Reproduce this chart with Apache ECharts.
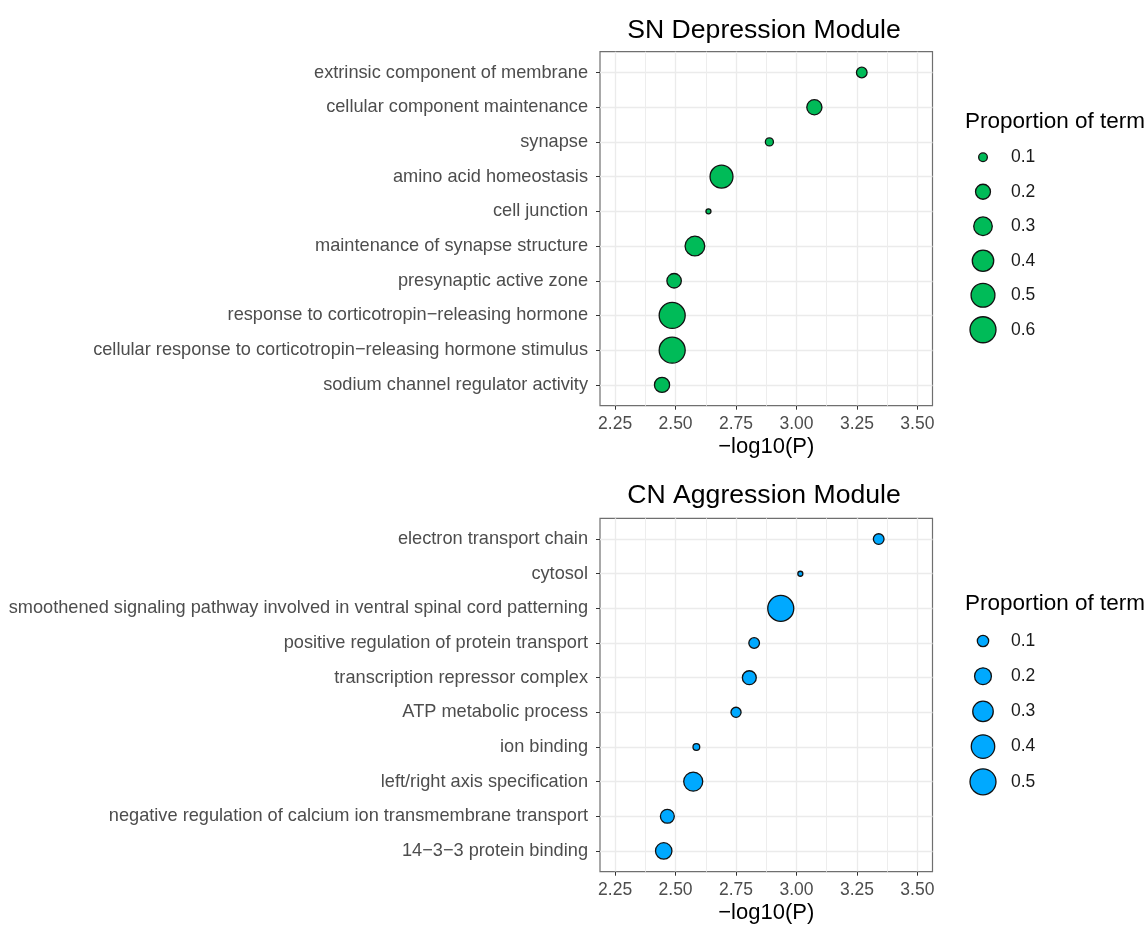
<!DOCTYPE html>
<html>
<head>
<meta charset="utf-8">
<title>Module enrichment</title>
<script src="https://cdn.jsdelivr.net/npm/echarts@6/dist/echarts.min.js"></script>
<style>
  html, body { margin: 0; padding: 0; background: #fff; }
  #chart { width: 1146px; height: 926px; }
</style>
</head>
<body>
<div id="chart"></div>
<script>
const termsTop = [
  "extrinsic component of membrane",
  "cellular component maintenance",
  "synapse",
  "amino acid homeostasis",
  "cell junction",
  "maintenance of synapse structure",
  "presynaptic active zone",
  "response to corticotropin\u2212releasing hormone",
  "cellular response to corticotropin\u2212releasing hormone stimulus",
  "sodium channel regulator activity"
];
const logPTop = [3.27, 3.074, 2.888, 2.69, 2.636, 2.58, 2.494, 2.486, 2.486, 2.444];
const propTop = [0.121, 0.205, 0.095, 0.459, 0.084, 0.337, 0.189, 0.6, 0.6, 0.205];

const termsBottom = [
  "electron transport chain",
  "cytosol",
  "smoothened signaling pathway involved in ventral spinal cord patterning",
  "positive regulation of protein transport",
  "transcription repressor complex",
  "ATP metabolic process",
  "ion binding",
  "left/right axis specification",
  "negative regulation of calcium ion transmembrane transport",
  "14\u22123\u22123 protein binding"
];
const logPBottom = [3.34, 3.016, 2.935, 2.825, 2.805, 2.75, 2.586, 2.573, 2.466, 2.451];
const propBottom = [0.092, 0.06, 0.5, 0.092, 0.139, 0.086, 0.063, 0.257, 0.139, 0.19];

const xTicks = [2.25, 2.5, 2.75, 3.0, 3.25, 3.5];
const xMinor = [2.375, 2.625, 2.875, 3.125, 3.375];
const breaksTop = [0.1, 0.2, 0.3, 0.4, 0.5, 0.6];
const breaksBottom = [0.1, 0.2, 0.3, 0.4, 0.5];

const green = "#00BB58";
const blue = "#00A9FF";
const font = "'Liberation Sans', Arial, sans-serif";

// ggplot-like area scale: diameter grows with sqrt of the rescaled value
function sizeScale(values) {
  const lo = Math.min(...values), hi = Math.max(...values);
  return (v) => 5 + 21 * Math.sqrt(Math.max(0, (v - lo) / (hi - lo)));
}
const sizeTop = sizeScale(propTop);
const sizeBottom = sizeScale(propBottom);

const panels = [
  { terms: termsTop, x: logPTop, p: propTop, size: sizeTop, color: green, top: 51.7, height: 354 },
  { terms: termsBottom, x: logPBottom, p: propBottom, size: sizeBottom, color: blue, top: 518.3, height: 353.4 }
];
const legends = [
  { breaks: breaksTop, size: sizeTop, color: green, top: 140, height: 207 },
  { breaks: breaksBottom, size: sizeBottom, color: blue, top: 623.4, height: 176 }
];

const grid = [], xAxis = [], yAxis = [], series = [];

panels.forEach((pn, k) => {
  grid.push({
    left: 600, width: 332.5, top: pn.top, height: pn.height,
    show: true, borderColor: "#6f6f6f", borderWidth: 1.2, backgroundColor: "transparent"
  });
  const idx = pn.terms.map((_, i) => i);
  xAxis.push({
    gridIndex: k, type: "value", min: 2.1875, max: 3.5625,
    axisLine: { show: false, onZero: false },
    axisTick: { show: true, length: 4, customValues: xTicks, lineStyle: { color: "#333" } },
    axisLabel: {
      customValues: xTicks, margin: 9, color: "#4d4d4d", fontSize: 17.5, fontFamily: font,
      formatter: (v) => v.toFixed(2)
    },
    splitLine: { show: true, lineStyle: { color: "#ebebeb", width: 1.3 } },
    name: "\u2212log10(P)", nameLocation: "middle", nameGap: 30,
    nameTextStyle: { fontSize: 22, color: "#000", fontFamily: font }
  });
  // second, silent axis only for the minor grid lines
  xAxis.push({
    gridIndex: k, type: "value", min: 2.1875, max: 3.5625, position: "top",
    axisLine: { show: false, onZero: false },
    axisTick: { show: false, customValues: xMinor },
    axisLabel: { show: false, customValues: xMinor },
    splitLine: { show: true, lineStyle: { color: "#ededed", width: 1 } }
  });
  yAxis.push({
    gridIndex: k, type: "value", min: -0.6, max: pn.terms.length - 0.4, inverse: true,
    axisLine: { show: false, onZero: false },
    axisTick: { show: true, length: 4, customValues: idx, lineStyle: { color: "#333" } },
    axisLabel: {
      customValues: idx, margin: 12, color: "#4d4d4d", fontSize: 18.2, fontFamily: font,
      formatter: (v) => pn.terms[Math.round(v)]
    },
    splitLine: { show: true, lineStyle: { color: "#ebebeb", width: 1.3 } }
  });
  series.push({
    type: "scatter",
    xAxisIndex: k * 2, yAxisIndex: k,
    data: pn.x.map((x, i) => [x, i, pn.p[i]]),
    symbolSize: (d) => pn.size(d[2]),
    itemStyle: { color: pn.color, borderColor: "#111", borderWidth: 1.3, opacity: 1 },
    z: 5
  });
});

legends.forEach((lg) => {
  const g = grid.length;
  grid.push({ left: 968, width: 30, top: lg.top, height: lg.height });
  xAxis.push({ gridIndex: g, type: "category", data: ["size"], show: false });
  yAxis.push({
    gridIndex: g, type: "category", data: lg.breaks.map(String), inverse: true, position: "right",
    axisLine: { show: false }, axisTick: { show: false }, splitLine: { show: false },
    axisLabel: { margin: 13, color: "#1a1a1a", fontSize: 17.5, fontFamily: font }
  });
  series.push({
    type: "scatter",
    xAxisIndex: xAxis.length - 1, yAxisIndex: yAxis.length - 1,
    data: lg.breaks.map((b) => ["size", String(b), b]),
    symbolSize: (d) => lg.size(d[2]),
    itemStyle: { color: lg.color, borderColor: "#111", borderWidth: 1.3, opacity: 1 },
    silent: true
  });
});

const titleStyle = { fontSize: 26.6, fontWeight: "normal", color: "#000", fontFamily: font };
const legendTitleStyle = { fontSize: 22.5, fontWeight: "normal", color: "#000", fontFamily: font };

const option = {
  animation: false,
  backgroundColor: "#fff",
  title: [
    { text: "SN Depression Module", left: 759, top: 12, textAlign: "center", textStyle: titleStyle },
    { text: "CN Aggression Module", left: 759, top: 477, textAlign: "center", textStyle: titleStyle },
    { text: "Proportion of term", left: 960, top: 105, textStyle: legendTitleStyle },
    { text: "Proportion of term", left: 960, top: 587, textStyle: legendTitleStyle }
  ],
  grid, xAxis, yAxis, series
};

const chart = echarts.init(document.getElementById("chart"), null, { renderer: "canvas" });
chart.setOption(option);
</script>
</body>
</html>
